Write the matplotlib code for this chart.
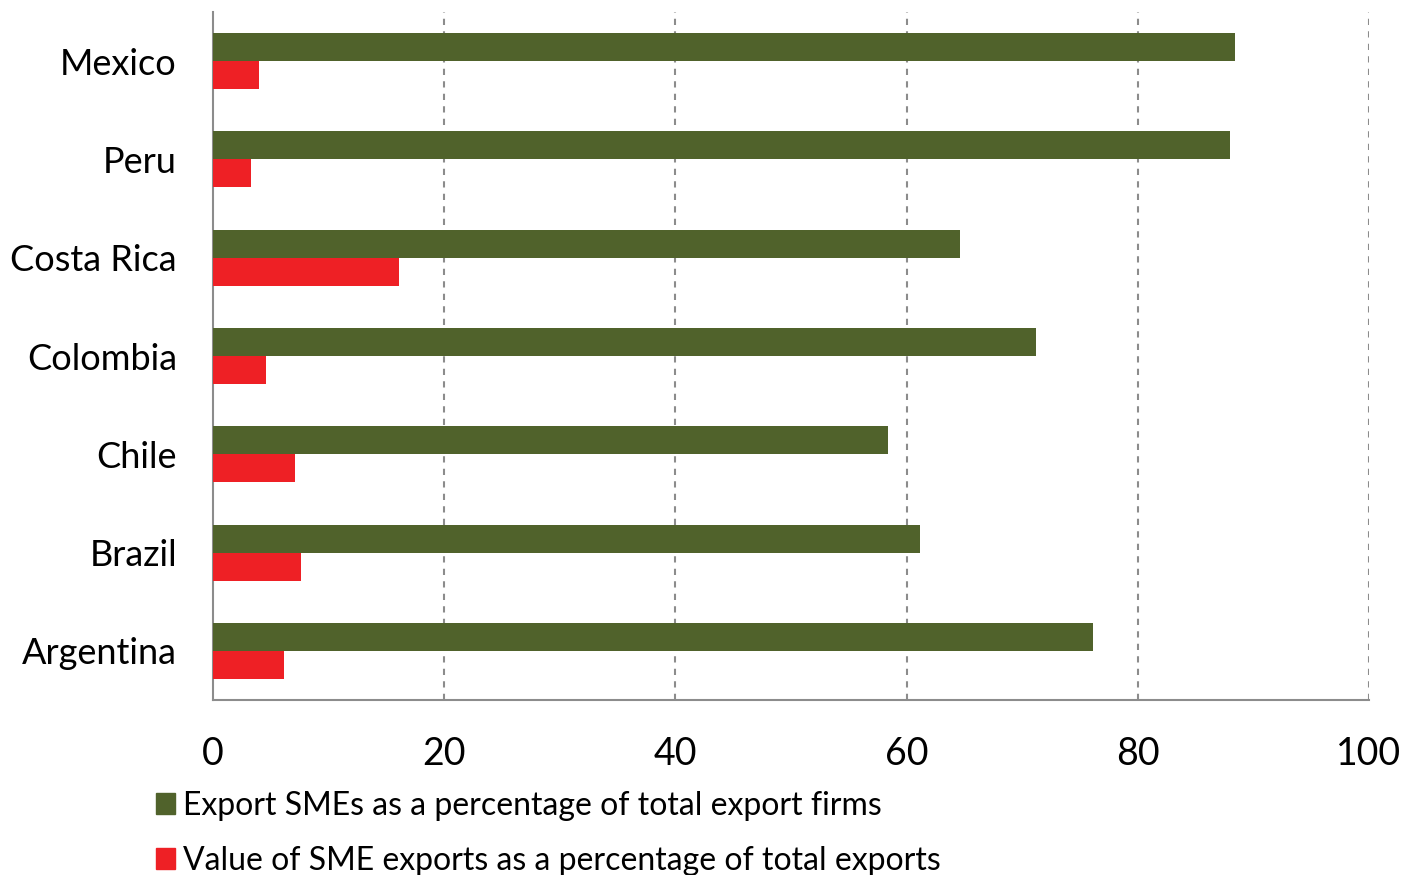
import numpy as np
import matplotlib.pyplot as plt
from matplotlib.patches import Patch

countries = ["Mexico", "Peru", "Costa Rica", "Colombia", "Chile", "Brazil", "Argentina"]
sme_firms_share = [88.4, 88.0, 64.6, 71.2, 58.4, 61.2, 76.1]
sme_value_share = [4.0, 3.3, 16.1, 4.6, 7.1, 7.6, 6.1]

green = "#50622B"
red = "#EE2025"
plt.rcParams['font.family'] = ['Lato', 'DejaVu Sans']

fig = plt.figure(figsize=(14.04, 8.75), dpi=100)
ax = fig.add_axes([213 / 1404, 1 - 700 / 875, (1369 - 213) / 1404, (700 - 12) / 875])

y = np.arange(len(countries))
h = 0.285
ax.barh(y - h / 2, sme_firms_share, height=h, color=green, zorder=3)
ax.barh(y + h / 2, sme_value_share, height=h, color=red, zorder=3)

ax.set_ylim(len(countries) - 0.5, -0.5)
ax.set_xlim(0, 100)
ax.set_yticks(y)
ax.set_yticklabels(countries, fontsize=26)
ax.set_xticks([0, 20, 40, 60, 80, 100])
ax.tick_params(axis='both', length=0)
ax.tick_params(axis='x', pad=26, labelsize=27)
ax.tick_params(axis='y', pad=26)

ax.grid(axis='x', color='#8C8C8C', linestyle=(0, (3, 3)), linewidth=1.5, zorder=0)
for s in ['top', 'right']:
    ax.spines[s].set_visible(False)
for s in ['left', 'bottom']:
    ax.spines[s].set_color('#8C8C8C')
    ax.spines[s].set_linewidth(1.5)
ax.xaxis.get_gridlines()[0].set_visible(False)

handles = [Patch(color=green), Patch(color=red)]
labels = ["Export SMEs as a percentage of total export firms",
          "Value of SME exports as a percentage of total exports"]
fig.legend(handles, labels, loc='upper left', bbox_to_anchor=(143 / 1404, 1 - 778 / 875),
           frameon=False, fontsize=23, handlelength=0.6, handleheight=0.6,
           handletextpad=0.25, labelspacing=0.78, borderaxespad=0)

fig.savefig("out.png", dpi=100)
